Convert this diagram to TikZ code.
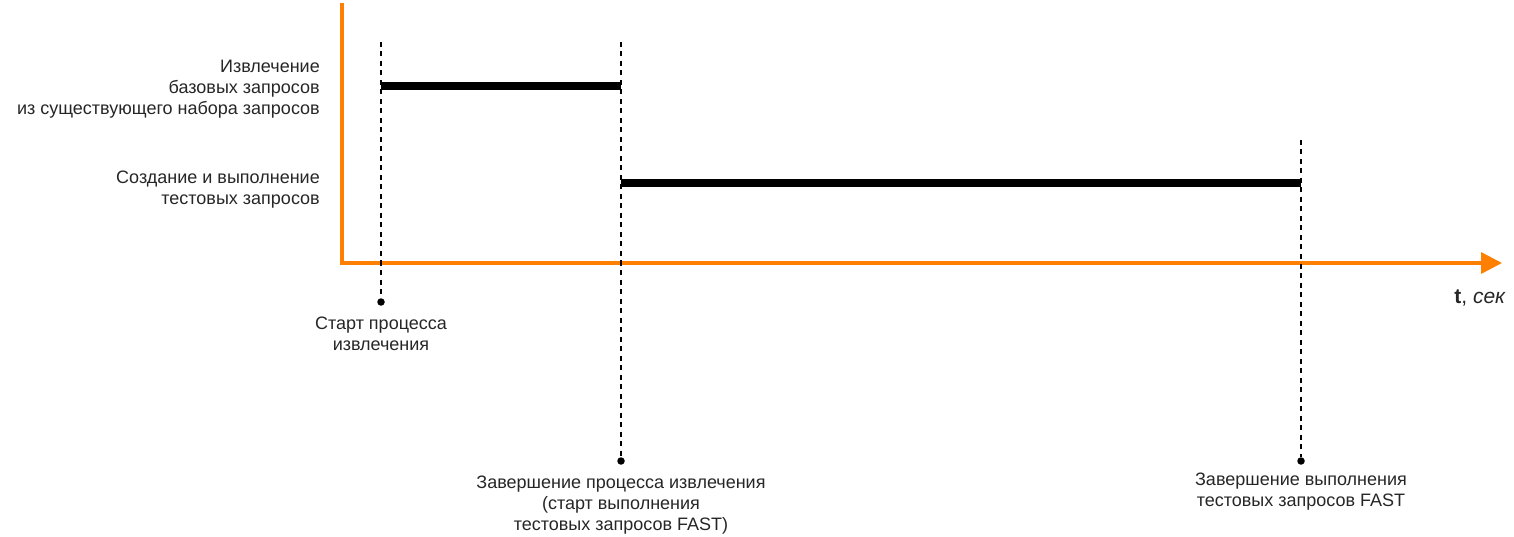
\documentclass[tikz,border=0pt]{standalone}
\usepackage{fontspec}
\setmainfont{Liberation Sans}
\usetikzlibrary{arrows.meta,positioning}
\definecolor{axisc}{RGB}{255,128,0}

\begin{document}
\begin{tikzpicture}[x=1pt,y=-1pt,
  axisline/.style={axisc,line width=3.5pt},
  marker/.style={black,line width=1.4pt,dash pattern=on 5pt off 4.5pt},
  phase/.style={black,line width=8pt},
  lbl/.style={font=\fontsize{18}{21}\selectfont,align=center,inner sep=0pt,text=black!85},
  dot/.style={circle,fill=black,inner sep=0pt,minimum size=7.5pt}]
  \useasboundingbox (0,0) rectangle (1514,537);
  % axes
  \coordinate (o) at (342,263);
  \coordinate (ytop) at (342,5);
  \coordinate (xend) at (1502,263);
  \draw[axisline,line cap=rect] (ytop) -- (o);
  \draw[axisline,-{Triangle[length=21pt,width=21pt]}] (o) -- (xend);
  \node[lbl,font=\fontsize{21}{24}\selectfont,anchor=base east] (tlbl) at (1506,303) {\textbf{t}, \textit{сек}};
  % event markers
  \node[dot] (e1) at (381,302) {};
  \node[dot] (e2) at (621,461) {};
  \node[dot] (e3) at (1301,461) {};
  \coordinate (e1top) at (381,42);
  \coordinate (e2top) at (621,42);
  \coordinate (e3top) at (1301,140);
  \draw[marker] (e1top) -- (e1);
  \draw[marker] (e2top) -- (e2);
  \draw[marker] (e3top) -- (e3);
  % phases
  \coordinate (p1a) at (381,86);
  \coordinate (p1b) at (621,86);
  \coordinate (p2a) at (621,183);
  \coordinate (p2b) at (1301,183);
  \draw[phase] (p1a) -- (p1b);
  \draw[phase] (p2a) -- (p2b);
  % phase labels
  \node[lbl,align=right,anchor=north east] (l1) at (320,60) {Извлечение\\базовых запросов\\из существующего набора запросов};
  \node[lbl,align=right,anchor=north east] (l2) at (320,171) {Создание и выполнение\\тестовых запросов};
  % event labels
  \node[lbl,anchor=north,below=11pt of e1] (t1) {Старт процесса\\извлечения};
  \node[lbl,anchor=north,below=11pt of e2] (t2) {Завершение процесса извлечения\\(старт выполнения\\тестовых запросов FAST)};
  \node[lbl,anchor=north,below=8pt of e3] (t3) {Завершение выполнения\\тестовых запросов FAST};
\end{tikzpicture}
\end{document}
